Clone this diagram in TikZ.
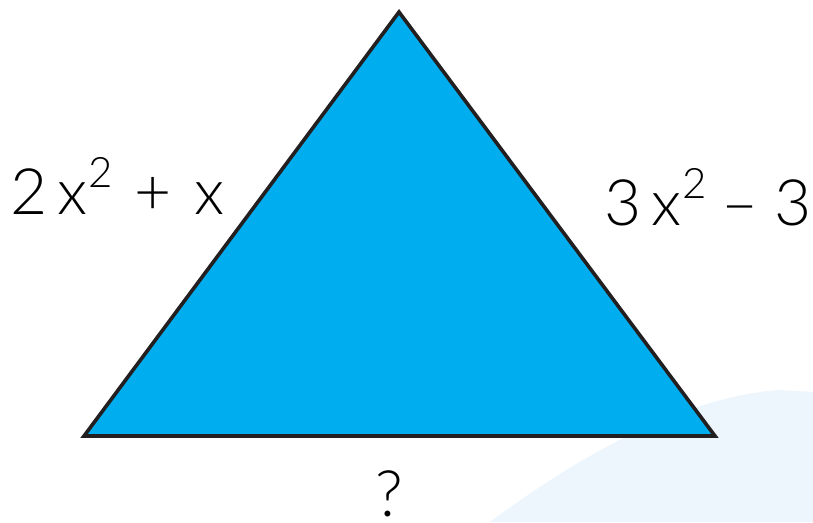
\documentclass[tikz,border=0pt]{standalone}
\usepackage{fontspec}
\setmainfont{Lato}[UprightFont=* Light]
\definecolor{triblue}{HTML}{00AEEF}
\definecolor{paleblue}{HTML}{EEF6FD}
\definecolor{edge}{HTML}{231F20}
\newcommand{\sq}{\raisebox{0.42em}{\fontsize{42}{44}\selectfont 2}}
\begin{document}
\begin{tikzpicture}[x=1pt,y=-1pt,
  lbl/.style={inner sep=0pt,font=\fontsize{64}{70}\selectfont}]
\useasboundingbox (0,0) rectangle (813,522);
\fill[paleblue] (490,522) .. controls (600,440) and (700,395) .. (780,390) -- (813,392) -- (813,522) -- cycle;
\coordinate (A) at (399,12);
\coordinate (B) at (84,436);
\coordinate (C) at (715,436);
\filldraw[fill=triblue,draw=edge,line width=3.6pt,line join=miter] (A) -- (B) -- (C) -- cycle;
\node[lbl,anchor=base west] (l1) at (10,214) {2\,x\sq\hspace{0.35em}+\hspace{0.35em}x};
\node[lbl,anchor=base west] (l2) at (604,225) {3\,x\sq\hspace{0.24em}–\hspace{0.24em}3};
\node[lbl,anchor=base,text depth=0pt] (l3) at (389,516) {?};
\end{tikzpicture}
\end{document}
